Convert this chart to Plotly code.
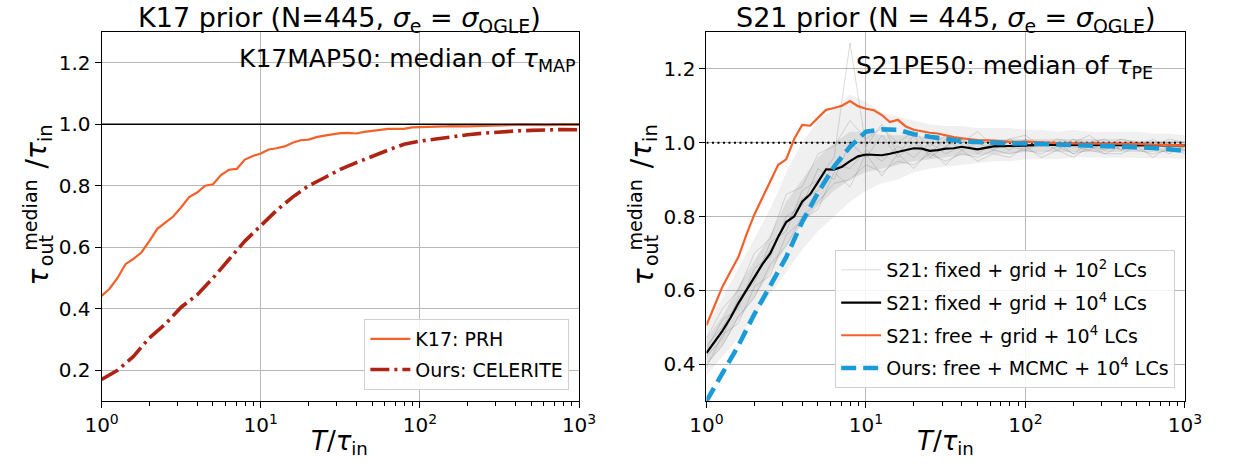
import plotly.graph_objects as go

# ---------------------------------------------------------------
# Sampling grids in log10(T / tau_in)
# ---------------------------------------------------------------
log_t_k17 = [0.00, 0.05, 0.10, 0.15, 0.20, 0.25, 0.30, 0.35, 0.40, 0.45,
             0.50, 0.55, 0.60, 0.65, 0.70, 0.75, 0.80, 0.85, 0.90, 0.95,
             1.00, 1.05, 1.10, 1.15, 1.20, 1.25, 1.30, 1.35, 1.40, 1.45,
             1.50, 1.55, 1.60, 1.65, 1.70, 1.75, 1.80, 1.85, 1.90, 1.95,
             2.00, 2.10, 2.20, 2.30, 2.40, 2.50, 2.60, 2.70, 2.80, 2.90, 3.00]

log_t_coarse = [0.0, 0.1, 0.2, 0.3, 0.4, 0.5, 0.6, 0.7, 0.8, 0.9, 1.0,
                1.1, 1.2, 1.3, 1.4, 1.5, 1.6, 1.7, 1.8, 1.9, 2.0,
                2.1, 2.2, 2.3, 2.4, 2.5, 2.6, 2.7, 2.8, 2.9, 3.0]

log_t_s21 = [0.00, 0.05, 0.10, 0.15, 0.20, 0.25, 0.30, 0.35, 0.40, 0.45,
             0.50, 0.55, 0.60, 0.65, 0.70, 0.75, 0.80, 0.85, 0.90, 0.95,
             1.00, 1.05, 1.10, 1.15, 1.20, 1.25, 1.30, 1.35, 1.40, 1.45,
             1.50, 1.55, 1.60, 1.70, 1.80, 1.90, 2.00, 2.10, 2.20, 2.30,
             2.40, 2.50, 2.60, 2.70, 2.80, 2.90, 3.00]

# ---------------------------------------------------------------
# Left panel: K17 prior
# ---------------------------------------------------------------
k17_prh = [0.442, 0.465, 0.500, 0.545, 0.562, 0.583, 0.620, 0.660, 0.680, 0.700,
           0.730, 0.763, 0.778, 0.800, 0.805, 0.835, 0.852, 0.855, 0.885, 0.897,
           0.905, 0.918, 0.922, 0.928, 0.940, 0.948, 0.950, 0.958, 0.963, 0.967,
           0.971, 0.972, 0.970, 0.975, 0.978, 0.981, 0.985, 0.985, 0.985, 0.990,
           0.990, 0.992, 0.994, 0.993, 0.995, 0.997, 0.998, 0.998, 0.997, 0.999, 0.998]

ours_celerite = [0.170, 0.200, 0.245, 0.305, 0.350, 0.405, 0.445, 0.500, 0.560, 0.620,
                 0.670, 0.720, 0.763, 0.800, 0.826, 0.853, 0.875, 0.897, 0.916, 0.935,
                 0.945, 0.952, 0.960, 0.966, 0.971, 0.975, 0.978, 0.980, 0.982, 0.983, 0.982]

# ---------------------------------------------------------------
# Right panel: S21 prior
# ---------------------------------------------------------------
s21_fixed_1e4 = [0.430, 0.460, 0.490, 0.525, 0.565, 0.600, 0.635, 0.670, 0.700, 0.745,
                 0.785, 0.800, 0.840, 0.860, 0.894, 0.928, 0.927, 0.935, 0.950, 0.963,
                 0.968, 0.966, 0.966, 0.970, 0.975, 0.981, 0.985, 0.984, 0.978, 0.980,
                 0.984, 0.985, 0.989, 0.982, 0.990, 0.991, 0.993, 0.994, 0.994, 0.994,
                 0.995, 0.995, 0.995, 0.994, 0.994, 0.993, 0.993]

s21_free_1e4 = [0.505, 0.560, 0.610, 0.650, 0.690, 0.750, 0.805, 0.850, 0.895, 0.940,
                0.955, 1.010, 1.048, 1.046, 1.068, 1.089, 1.094, 1.100, 1.113, 1.099,
                1.092, 1.088, 1.075, 1.056, 1.062, 1.044, 1.035, 1.030, 1.027, 1.025,
                1.019, 1.015, 1.012, 1.007, 1.006, 1.002, 1.003, 1.000, 0.999, 0.998,
                0.998, 0.998, 0.997, 0.997, 0.995, 0.994, 0.993]

ours_mcmc = [0.300, 0.375, 0.450, 0.535, 0.610, 0.690, 0.785, 0.865, 0.935, 0.989,
             1.030, 1.036, 1.035, 1.023, 1.016, 1.010, 1.004, 1.002, 0.999, 0.998,
             0.998, 0.997, 0.995, 0.993, 0.991, 0.991, 0.990, 0.988, 0.986, 0.983, 0.978]

# spread of the 10^2-LC realisations (outer and inner envelopes)
s21_1e2_upper = [0.50, 0.58, 0.66, 0.74, 0.82, 0.92, 1.00, 1.06, 1.09, 1.13, 1.11,
                 1.08, 1.07, 1.06, 1.05, 1.045, 1.045, 1.04, 1.04, 1.04, 1.035,
                 1.035, 1.03, 1.035, 1.03, 1.03, 1.03, 1.03, 1.025, 1.025, 1.02]
s21_1e2_lower = [0.37, 0.42, 0.47, 0.53, 0.59, 0.65, 0.71, 0.76, 0.80, 0.84, 0.87,
                 0.89, 0.90, 0.92, 0.93, 0.935, 0.94, 0.945, 0.95, 0.95, 0.955,
                 0.955, 0.955, 0.96, 0.96, 0.96, 0.96, 0.96, 0.96, 0.958, 0.956]
s21_1e2_core_upper = [0.47, 0.53, 0.61, 0.68, 0.75, 0.84, 0.90, 0.96, 1.00, 1.03, 1.03,
                      1.02, 1.02, 1.02, 1.015, 1.015, 1.015, 1.01, 1.01, 1.01, 1.01,
                      1.01, 1.01, 1.01, 1.01, 1.01, 1.01, 1.005, 1.005, 1.005, 1.005]
s21_1e2_core_lower = [0.40, 0.45, 0.52, 0.58, 0.65, 0.72, 0.78, 0.83, 0.87, 0.90, 0.92,
                      0.93, 0.94, 0.95, 0.955, 0.96, 0.965, 0.965, 0.97, 0.97, 0.975,
                      0.975, 0.975, 0.975, 0.975, 0.975, 0.975, 0.975, 0.975, 0.975, 0.975]

# a few individual 10^2-LC realisations
s21_1e2_runs = [
    [0.47, 0.55, 0.60, 0.70, 0.74, 0.86, 0.88, 0.97, 0.99, 1.06, 1.01, 1.04, 1.00, 1.03,
     0.99, 1.02, 1.00, 1.03, 0.99, 1.01, 1.02, 0.99, 1.01, 1.00, 1.02, 0.99, 1.01, 1.00,
     0.99, 1.01, 1.00],
    [0.40, 0.45, 0.53, 0.58, 0.67, 0.72, 0.80, 0.84, 0.89, 0.90, 0.94, 0.92, 0.95, 0.94,
     0.97, 0.95, 0.97, 0.96, 0.98, 0.97, 0.98, 0.97, 0.99, 0.97, 0.98, 0.97, 0.99, 0.98,
     0.97, 0.98, 0.98],
    [0.44, 0.52, 0.55, 0.66, 0.69, 0.80, 0.83, 0.93, 0.90, 1.00, 0.96, 1.02, 0.96, 1.00,
     0.97, 1.01, 0.98, 1.00, 0.98, 1.01, 0.99, 1.00, 0.98, 1.01, 0.99, 0.98, 1.00, 0.99,
     1.01, 0.98, 0.99],
    [0.42, 0.47, 0.58, 0.62, 0.73, 0.76, 0.87, 0.90, 0.96, 1.27, 0.99, 1.05, 0.97, 1.02,
     0.96, 0.99, 1.01, 0.97, 1.00, 0.98, 1.01, 0.99, 1.00, 0.97, 1.00, 1.01, 0.98, 1.00,
     0.99, 0.97, 0.99],
    [0.45, 0.50, 0.57, 0.64, 0.71, 0.78, 0.85, 0.87, 0.94, 0.93, 0.98, 0.95, 0.99, 0.96,
     1.00, 0.97, 0.99, 0.98, 1.00, 0.99, 0.98, 1.00, 0.99, 0.99, 0.98, 1.00, 0.98, 0.99,
     0.99, 1.00, 0.98],
    [0.39, 0.48, 0.51, 0.61, 0.64, 0.75, 0.79, 0.82, 0.92, 0.88, 0.97, 0.91, 0.97, 0.93,
     0.98, 0.94, 0.98, 0.95, 0.97, 0.96, 0.99, 0.96, 0.98, 0.96, 0.99, 0.97, 0.97, 0.99,
     0.96, 0.99, 0.97],
]

x_tick_vals = [1, 10, 100, 1000]
x_tick_text = ["10<sup>0</sup>", "10<sup>1</sup>", "10<sup>2</sup>", "10<sup>3</sup>"]
x_minor_vals = [m * d for d in (1, 10, 100) for m in range(2, 10)]
y_ticks_left = [0.2, 0.4, 0.6, 0.8, 1.0, 1.2]
y_ticks_right = [0.4, 0.6, 0.8, 1.0, 1.2]

ORANGE = "#f3602a"
DARKRED = "#ad2414"
BLUE = "#1a9bd7"
FONT = "DejaVu Sans"

W, H = 1234, 468


def px(x):
    return x / W


def py(y):
    return 1 - y / H


def lin(logs):
    return [10 ** v for v in logs]


fig = go.Figure()

# ---------------- left panel ----------------
fig.add_trace(go.Scatter(
    x=lin(log_t_k17), y=k17_prh, mode="lines", name="K17: PRH",
    line=dict(color=ORANGE, width=2.2), xaxis="x", yaxis="y",
    legend="legend", legendgroup="a"))
fig.add_trace(go.Scatter(
    x=lin(log_t_coarse), y=ours_celerite, mode="lines", name="Ours: CELERITE",
    line=dict(color=DARKRED, width=3.6, dash="19px,5px,3px,5px"),
    xaxis="x", yaxis="y", legend="legend", legendgroup="b"))

# ---------------- right panel ----------------
x_c = lin(log_t_coarse)
fig.add_trace(go.Scatter(x=x_c, y=s21_1e2_lower, mode="lines", line=dict(width=0),
                         xaxis="x2", yaxis="y2", showlegend=False, hoverinfo="skip"))
fig.add_trace(go.Scatter(x=x_c, y=s21_1e2_upper, mode="lines", line=dict(width=0),
                         fill="tonexty", fillcolor="rgba(128,128,128,0.12)",
                         xaxis="x2", yaxis="y2", showlegend=False, hoverinfo="skip"))
fig.add_trace(go.Scatter(x=x_c, y=s21_1e2_core_lower, mode="lines", line=dict(width=0),
                         xaxis="x2", yaxis="y2", showlegend=False, hoverinfo="skip"))
fig.add_trace(go.Scatter(x=x_c, y=s21_1e2_core_upper, mode="lines", line=dict(width=0),
                         fill="tonexty", fillcolor="rgba(110,110,110,0.15)",
                         xaxis="x2", yaxis="y2", showlegend=False, hoverinfo="skip"))
for i, run in enumerate(s21_1e2_runs):
    fig.add_trace(go.Scatter(
        x=x_c, y=run, mode="lines",
        name="S21: fixed + grid + 10<sup>2</sup> LCs",
        line=dict(color="rgba(110,110,110,0.25)", width=1),
        xaxis="x2", yaxis="y2", legend="legend2", legendgroup="c",
        showlegend=(i == 0)))

fig.add_trace(go.Scatter(
    x=[1, 1000], y=[1.0, 1.0], mode="lines", showlegend=False,
    line=dict(color="black", width=2, dash="2px,3.5px"), xaxis="x2", yaxis="y2"))

x_s = lin(log_t_s21)
fig.add_trace(go.Scatter(
    x=x_s, y=s21_fixed_1e4, mode="lines", name="S21: fixed + grid + 10<sup>4</sup> LCs",
    line=dict(color="black", width=2.2), xaxis="x2", yaxis="y2",
    legend="legend2", legendgroup="d"))
fig.add_trace(go.Scatter(
    x=x_s, y=s21_free_1e4, mode="lines", name="S21: free + grid + 10<sup>4</sup> LCs",
    line=dict(color=ORANGE, width=2.2), xaxis="x2", yaxis="y2",
    legend="legend2", legendgroup="e"))
fig.add_trace(go.Scatter(
    x=x_c, y=ours_mcmc, mode="lines", name="Ours: free + MCMC + 10<sup>4</sup> LCs",
    line=dict(color=BLUE, width=4.6, dash="15px,7px"), xaxis="x2", yaxis="y2",
    legend="legend2", legendgroup="f"))

# reference line in the left panel
fig.add_shape(type="line", xref="x domain", yref="y", x0=0, x1=1, y0=1.0, y1=1.0,
              line=dict(color="black", width=1.6))

common_x = dict(
    type="log", range=[0, 3], tickvals=x_tick_vals, ticktext=x_tick_text,
    ticks="outside", ticklen=6, tickwidth=1.1, tickcolor="black",
    showline=True, linecolor="black", linewidth=1.2, mirror=True,
    showgrid=True, gridcolor="#b8b8b8", gridwidth=1, zeroline=False,
    tickfont=dict(family=FONT, size=20, color="black"),
    minor=dict(tickvals=x_minor_vals, ticks="outside", ticklen=3.5,
               tickwidth=0.9, tickcolor="black", showgrid=False),
)
common_y = dict(
    ticks="outside", ticklen=6, tickwidth=1.1, tickcolor="black",
    showline=True, linecolor="black", linewidth=1.2, mirror=True,
    showgrid=True, gridcolor="#b8b8b8", gridwidth=1, zeroline=False,
    tickformat=".1f", tickfont=dict(family=FONT, size=20, color="black"),
)

y_dom = [py(401), py(32)]
fig.update_layout(
    width=W, height=H, margin=dict(l=0, r=0, t=0, b=0),
    paper_bgcolor="white", plot_bgcolor="white",
    font=dict(family=FONT, color="black"),
    xaxis=dict(domain=[px(87), px(578)], anchor="y", **common_x),
    yaxis=dict(domain=y_dom, anchor="x", range=[0.1, 1.3],
               tickvals=y_ticks_left, **common_y),
    xaxis2=dict(domain=[px(709), px(1201)], anchor="y2", **common_x),
    yaxis2=dict(domain=y_dom, anchor="x2", range=[0.3, 1.3],
                tickvals=y_ticks_right, **common_y),
    legend=dict(x=px(568), y=py(390), xanchor="right", yanchor="bottom",
                bgcolor="rgba(255,255,255,0.85)", bordercolor="#d0d0d0", borderwidth=1,
                font=dict(family=FONT, size=19, color="black"), tracegroupgap=3,
                itemwidth=40),
    legend2=dict(x=px(1191), y=py(388), xanchor="right", yanchor="bottom",
                 bgcolor="rgba(255,255,255,0.85)", bordercolor="#d0d0d0", borderwidth=1,
                 font=dict(family=FONT, size=19, color="black"), tracegroupgap=5,
                 itemwidth=40),
)

annotations = []


def text(x, y, s, size, angle=0, xanchor="center", yanchor="middle"):
    annotations.append(dict(
        x=px(x), y=py(y), xref="paper", yref="paper", text=s, showarrow=False,
        textangle=angle, xanchor=xanchor, yanchor=yanchor,
        font=dict(family=FONT, size=size, color="black")))


# titles
text(332, 0, "K17 prior (N=445, <i>σ</i><sub>e</sub> = <i>σ</i><sub>OGLE</sub>)", 27,
     yanchor="top")
text(955, 0, "S21 prior (N = 445, <i>σ</i><sub>e</sub> = <i>σ</i><sub>OGLE</sub>)", 27,
     yanchor="top")

# in-panel labels
text(577, 60, "K17MAP50: median of <i>τ</i><sub>MAP</sub>", 25, xanchor="right")
text(1170, 67, "S21PE50: median of <i>τ</i><sub>PE</sub>", 25, xanchor="right")

# x-axis labels
text(332, 442, "<i>T</i>/<i>τ</i><sub>in</sub>", 26)
text(955, 442, "<i>T</i>/<i>τ</i><sub>in</sub>", 26)

# y-axis labels (stacked super/subscript)
for dx in (0, 622):
    text(22 + dx, 277, "<i>τ</i>", 28, angle=-90)
    text(30 + dx, 251, "out", 19, angle=-90)
    text(13 + dx, 215, "median", 19, angle=-90)
    text(22 + dx, 146, "/<i>τ</i><sub>in</sub>", 28, angle=-90)

fig.update_layout(annotations=annotations)

fig.write_html("out.html")
